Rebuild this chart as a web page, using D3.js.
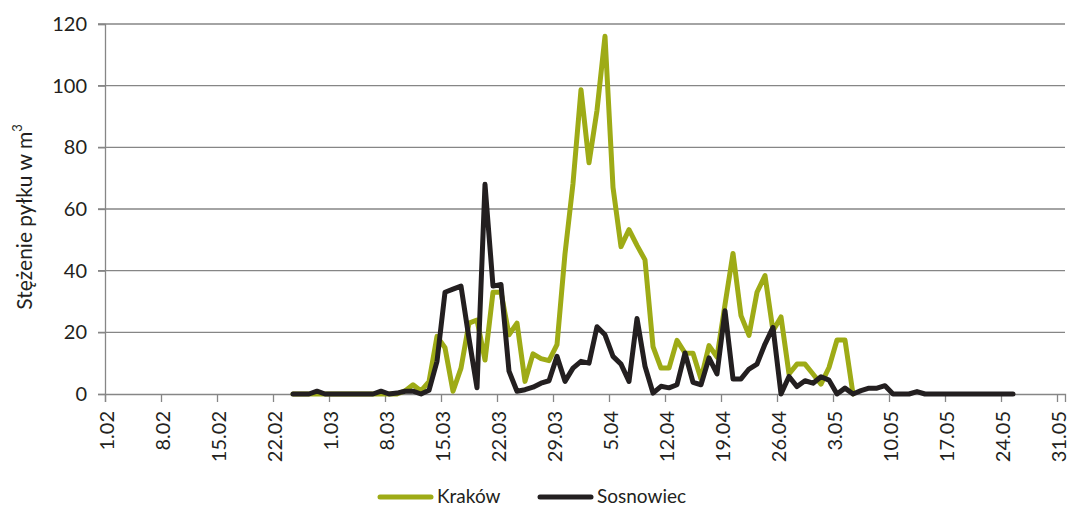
<!DOCTYPE html>
<html>
<head>
<meta charset="utf-8">
<script src="https://cdn.jsdelivr.net/npm/d3@7"></script>
<style>
  body { margin: 0; background: #fff; }
  svg { display: block; font-family: Lato, "Open Sans", sans-serif; }
</style>
</head>
<body>
<div id="chart"></div>
<script>
// tick labels on the date axis (day.month)
const xTickLabels = ['1.02', '8.02', '15.02', '22.02', '1.03', '8.03', '15.03', '22.03', '29.03',
  '5.04', '12.04', '19.04', '26.04', '3.05', '10.05', '17.05', '24.05', '31.05'];
const yTicks = [0, 20, 40, 60, 80, 100, 120];

// daily series, both starting on 24.02
const startDay = '24.02';
const krakow = [
  0, 0, 0, 0, 0, 0, 0, 0, 0, 0, 0, 0, 0, 0,
  1, 3, 1, 4, 18.7, 15, 0.9, 8.4, 23, 24, 11, 33, 33, 19.2, 23, 4.1, 13, 11.5, 10.8, 16,
  45.5, 68.3, 98.7, 75, 92, 116, 67, 47.8, 53.3, 48.2, 43.5, 15.4, 8.4, 8.4, 17.4, 13.3,
  13.2, 4.9, 15.7, 12, 29, 45.6, 25.4, 19, 33, 38.4, 20.5, 25, 6.5, 9.7, 9.7, 6.5, 3.2,
  8.6, 17.5, 17.5, 0
];
const sosnowiec = [
  0, 0, 0, 0.9, 0, 0, 0, 0, 0, 0, 0, 0.9, 0, 0.3,
  0.9, 0.9, 0, 1.2, 10.6, 33, 34, 35, 18, 2, 68, 35, 35.5, 7.4, 0.9, 1.4, 2.2, 3.5, 4.3, 12.2,
  4.1, 8.4, 10.6, 10, 21.8, 19.2, 12.2, 9.7, 4.1, 24.5, 9, 0.3, 2.5, 2, 3, 13.3,
  3.8, 3, 11.7, 6.5, 27, 4.9, 4.9, 8.1, 9.7, 16.2, 21.6, 0, 5.7, 2.4, 4.3, 3.5, 5.6,
  4.5, 0, 1.9, 0, 1.1, 1.9, 1.9, 2.7, 0, 0, 0, 0.8, 0, 0, 0, 0, 0, 0, 0, 0, 0, 0, 0, 0
];
const seriesNames = ['Kraków', 'Sosnowiec'];
const seriesColors = ['#9eab16', '#231f20'];

const year = 2013;
const parseDay = (s) => {
  const [d, m] = s.split('.').map(Number);
  return new Date(Date.UTC(year, m - 1, d));
};

const width = 1070;
const height = 508;
const plotLeft = 105;
const plotRight = 1065;
const plotTop = 24;
const plotBottom = 394;
const fontSize = 20;

const svg = d3.select('#chart')
  .append('svg')
  .attr('width', width)
  .attr('height', height);

const x = d3.scaleUtc()
  .domain([new Date(Date.UTC(year, 1, 1)), new Date(Date.UTC(year, 5, 1))])
  .range([plotLeft, plotRight]);

const y = d3.scaleLinear()
  .domain([0, 120])
  .range([plotBottom, plotTop]);

// grid lines
svg.append('g')
  .selectAll('line')
  .data(yTicks.filter((d) => d > 0))
  .join('line')
  .attr('x1', plotLeft - 7)
  .attr('x2', plotRight)
  .attr('y1', (d) => y(d))
  .attr('y2', (d) => y(d))
  .attr('stroke', '#868686')
  .attr('stroke-width', 1.3);

// y axis
const yAxis = svg.append('g')
  .attr('transform', `translate(${plotLeft},0)`)
  .call(d3.axisLeft(y).tickValues(yTicks).tickSize(7).tickPadding(11));
yAxis.select('.domain').attr('stroke', '#868686').attr('stroke-width', 1.3);
yAxis.selectAll('.tick line').attr('stroke', '#868686').attr('stroke-width', 1.3);
yAxis.selectAll('.tick text')
  .attr('font-size', fontSize)
  .attr('fill', '#231f20')
  .attr('font-family', 'Lato, sans-serif');

// x axis
const xAxis = svg.append('g')
  .attr('transform', `translate(0,${plotBottom})`)
  .call(d3.axisBottom(x)
    .tickValues(xTickLabels.map(parseDay))
    .tickSize(8)
    .tickFormat((d, i) => xTickLabels[i]));
xAxis.select('.domain').attr('stroke', '#868686').attr('stroke-width', 1.3);
xAxis.selectAll('.tick line').attr('stroke', '#868686').attr('stroke-width', 1.3);
xAxis.selectAll('.tick text')
  .attr('font-size', fontSize)
  .attr('fill', '#231f20')
  .attr('font-family', 'Lato, sans-serif')
  .attr('text-anchor', 'end')
  .attr('transform', 'rotate(-90)')
  .attr('x', -17)
  .attr('y', 1)
  .attr('dy', '0.35em');

// y axis title
svg.append('text')
  .attr('transform', `translate(32,${(plotTop + plotBottom) / 2 + 8}) rotate(-90)`)
  .attr('text-anchor', 'middle')
  .attr('font-size', 21)
  .attr('fill', '#231f20')
  .text('Stężenie pyłku w m')
  .append('tspan')
  .attr('font-size', 13)
  .attr('dy', '-0.8em')
  .text('3');

// lines
const start = parseDay(startDay);
const toPoints = (values) => values.map((v, i) => ({
  date: new Date(start.getTime() + (i + 0.5) * 864e5),
  value: v,
}));

const line = d3.line()
  .x((d) => x(d.date))
  .y((d) => y(d.value));

[krakow, sosnowiec].forEach((values, k) => {
  svg.append('path')
    .datum(toPoints(values))
    .attr('fill', 'none')
    .attr('stroke', seriesColors[k])
    .attr('stroke-width', 5)
    .attr('stroke-linejoin', 'round')
    .attr('stroke-linecap', 'round')
    .attr('d', line);
});

// legend
const legendX = [380, 540];
const legend = svg.append('g');
seriesNames.forEach((name, k) => {
  legend.append('line')
    .attr('x1', legendX[k])
    .attr('x2', legendX[k] + 51)
    .attr('y1', 497)
    .attr('y2', 497)
    .attr('stroke', seriesColors[k])
    .attr('stroke-width', 5)
    .attr('stroke-linecap', 'round');
  legend.append('text')
    .attr('x', legendX[k] + 57)
    .attr('y', 503)
    .attr('font-size', 19)
    .attr('fill', '#231f20')
    .text(name);
});
</script>
</body>
</html>
